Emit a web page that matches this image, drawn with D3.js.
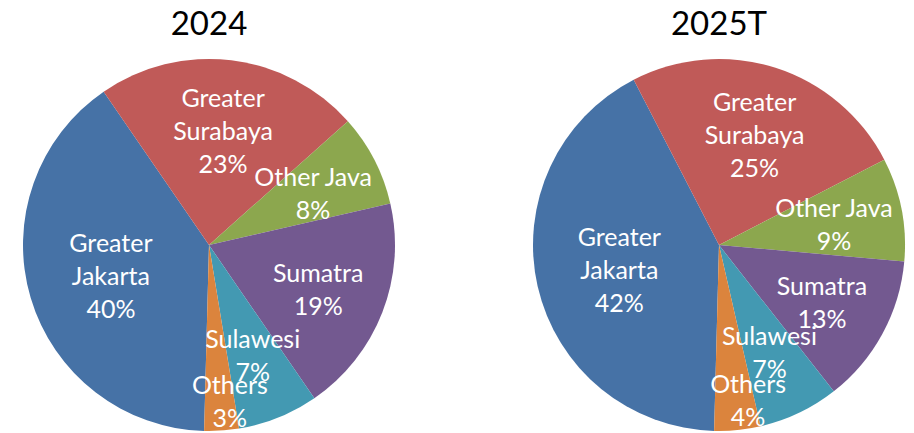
<!DOCTYPE html>
<html>
<head>
<meta charset="utf-8">
<script src="https://cdn.jsdelivr.net/npm/d3@7"></script>
<style>
  html, body { margin: 0; padding: 0; background: #fff; }
  svg text { font-family: Lato, "Open Sans", sans-serif; }
</style>
</head>
<body>
<div id="chart"></div>
<script>
// categories, in drawing order (clockwise)
const regions = ["Greater Jakarta", "Greater Surabaya", "Other Java", "Sumatra", "Sulawesi", "Others"];
// label text as shown on the chart (line breaks)
const regionLabels = [["Greater", "Jakarta"], ["Greater", "Surabaya"], ["Other Java"], ["Sumatra"], ["Sulawesi"], ["Others"]];
// share in percent
const share2024 = [40, 23, 8, 19, 7, 3];
const share2025 = [42, 25, 9, 13, 7, 4];
const titles = ["2024", "2025T"];

const colors = ["#4672A6", "#C05A58", "#8CA74E", "#735990", "#4399B2", "#DB843D"];

var width = 914, height = 433;
var radius = 186;

var svg = d3
  .select("#chart")
  .append("svg")
  .attr("width", width)
  .attr("height", height);

var color = d3.scaleOrdinal().domain(regions).range(colors);

// excel starts the first slice a bit past 6 o'clock
var start = (181.5 * Math.PI) / 180;

var pie = d3
  .pie()
  .sort(null)
  .value((d) => d.value)
  .startAngle(start)
  .endAngle(start + 2 * Math.PI);

var arc = d3.arc().innerRadius(0).outerRadius(radius);

function labelPos(d, total) {
  var share = d.data.value / total;
  var a0 = d.startAngle, a1 = d.endAngle;
  var r = radius * 0.63;
  if (share < 0.05) {
    // tiny slices: label pushed out and leaning to the slice start
    r = radius * 0.84;
    a1 = a0 + (a1 - a0) * 0.3;
  } else if (share > 0.35) {
    r = radius * 0.55;
  }
  return d3.arc().innerRadius(r).outerRadius(r).startAngle(a0).endAngle(a1).centroid();
}

function drawPie(values, title, cx) {
  var data = regions.map((r, i) => ({ region: r, lines: regionLabels[i], value: values[i] }));
  var total = d3.sum(values);

  var g = svg.append("g").attr("transform", "translate(" + cx + "," + 245 + ")");

  g.selectAll("path")
    .data(pie(data))
    .enter()
    .append("path")
    .attr("d", arc)
    .attr("fill", (d) => color(d.data.region));

  var labels = g.selectAll(".lbl")
    .data(pie(data))
    .enter()
    .append("text")
    .attr("class", "lbl")
    .attr("fill", "#fff")
    .attr("font-size", "25px")
    .attr("text-anchor", "middle")
    .attr("transform", function(d) {
      var c = labelPos(d, total);
      var n = d.data.lines.length + 1;
      return "translate(" + c[0] + "," + (c[1] - ((n - 1) * 33) / 2 + 11) + ")";
    });

  labels.each(function(d) {
    var t = d3.select(this);
    d.data.lines.concat([d.data.value + "%"]).forEach((line, i) => {
      t.append("tspan").attr("x", 0).attr("y", i * 33).text(line);
    });
  });

  svg.append("text")
    .attr("x", cx)
    .attr("y", 35)
    .attr("text-anchor", "middle")
    .attr("font-size", "33px")
    .attr("fill", "#000")
    .text(title);
}

drawPie(share2024, titles[0], 209);
drawPie(share2025, titles[1], 719);
</script>
</body>
</html>
